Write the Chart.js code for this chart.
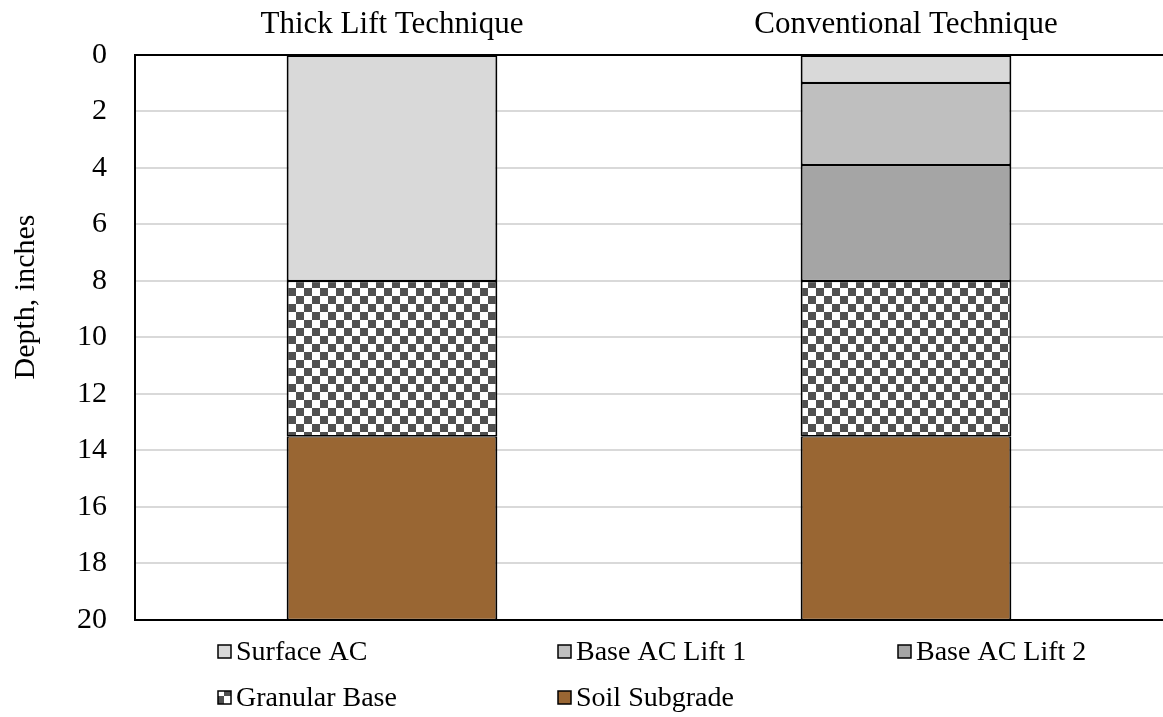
<!DOCTYPE html>
<html>
<head>
<meta charset="utf-8">
<script src="https://cdn.jsdelivr.net/npm/chart.js@4/dist/chart.umd.min.js"></script>
<style>
  html, body { margin: 0; padding: 0; background: #fff; }
</style>
</head>
<body>
<canvas id="chart" width="1163" height="717"></canvas>
<script>
// layer thicknesses, inches (null = layer not present)
const categories = ["Thick Lift Technique", "Conventional Technique"];
const surfaceAC = [8, 1];
const baseLift1 = [null, 2.9];
const baseLift2 = [null, 4.1];
const granularBase = [5.5, 5.5];
const soilSubgrade = [6.5, 6.5];
const depthMin = 0;
const depthMax = 20;
const depthStep = 2;
const depthTitle = "Depth, inches";

const FONT = "'Liberation Serif', 'Times New Roman', serif";

// checkered fill for the granular base
function checker() {
  let c = document.createElement("canvas");
  c.width = 16;
  c.height = 16;
  let g = c.getContext("2d");
  g.fillStyle = "#fff";
  g.fillRect(0, 0, 16, 16);
  g.fillStyle = "#505050";
  g.fillRect(0, 0, 8, 8);
  g.fillRect(8, 8, 8, 8);
  return g.createPattern(c, "repeat");
}

let ctx = document.getElementById("chart").getContext("2d");
let checkerFill = checker();

function layer(label, data, fill) {
  return {
    label,
    data,
    backgroundColor: fill,
    borderColor: "#000",
    borderWidth: { top: 1.25, bottom: 1.25, left: 2, right: 2 },
    borderSkipped: false,
    categoryPercentage: 1,
    barPercentage: 0.41,
  };
}

// legend in a fixed 3-column grid under the plot, plus the y title
const extras = {
  id: "extras",
  afterDraw(chart) {
    let c = chart.ctx;
    c.save();
    c.font = "28px " + FONT;
    c.textBaseline = "middle";
    c.textAlign = "left";
    chart.data.datasets.forEach((ds, i) => {
      let x = 218 + (i % 3) * 340;
      let y = 652 + Math.floor(i / 3) * 46;
      c.fillStyle = ds.backgroundColor;
      c.fillRect(x, y - 7, 13, 13);
      c.strokeStyle = "#000";
      c.lineWidth = 1.5;
      c.strokeRect(x, y - 7, 13, 13);
      c.fillStyle = "#000";
      c.fillText(ds.label, x + 18, y + 1);
    });

    // axis title sits a bit above the plot centre, like the original
    c.font = "30px " + FONT;
    c.textAlign = "center";
    c.translate(26, 297);
    c.rotate(-Math.PI / 2);
    c.fillText(depthTitle, 0, 0);
    c.restore();
  },
};

new Chart(ctx, {
  type: "bar",
  data: {
    labels: categories,
    datasets: [
      layer("Surface AC", surfaceAC, "#d9d9d9"),
      layer("Base AC Lift 1", baseLift1, "#bfbfbf"),
      layer("Base AC Lift 2", baseLift2, "#a5a5a5"),
      layer("Granular Base", granularBase, checkerFill),
      layer("Soil Subgrade", soilSubgrade, "#996633"),
    ],
  },
  options: {
    responsive: false,
    animation: false,
    layout: { padding: { top: -6, left: 49, right: 0, bottom: 97 } },
    plugins: {
      legend: { display: false },
      tooltip: { enabled: false },
    },
    scales: {
      x: {
        position: "top",
        stacked: true,
        grid: { display: false, drawTicks: false },
        border: { display: true, color: "#000", width: 2 },
        ticks: {
          color: "#000",
          font: { family: FONT, size: 31, lineHeight: 0.8 },
          padding: 18,
        },
      },
      y: {
        stacked: true,
        reverse: true,
        min: depthMin,
        max: depthMax,
        grid: {
          color: (c) => (c.tick && c.tick.value === depthMax ? "#000" : "#d9d9d9"),
          lineWidth: 2,
          drawTicks: false,
        },
        border: { display: true, color: "#000", width: 2 },
        ticks: {
          stepSize: depthStep,
          color: "#000",
          font: { family: FONT, size: 30 },
          padding: 28,
        },
      },
    },
  },
  plugins: [extras],
});
</script>
</body>
</html>
